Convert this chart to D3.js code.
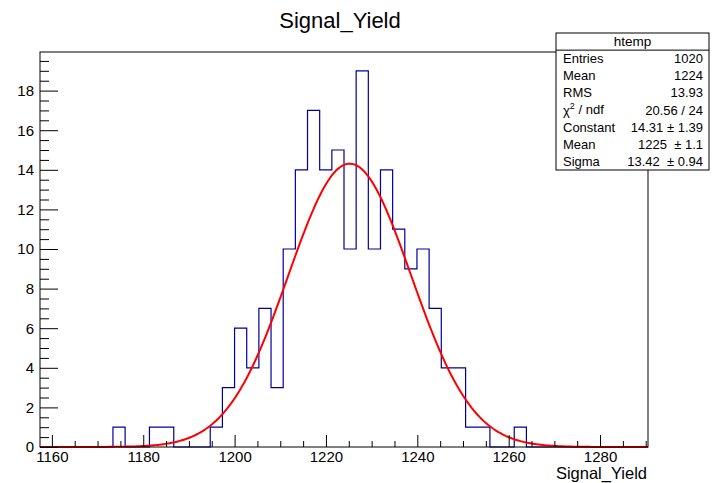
<!DOCTYPE html>
<html>
<head>
<meta charset="utf-8">
<script src="https://cdn.jsdelivr.net/npm/d3@7"></script>
<style>
  html, body { margin: 0; padding: 0; background: #fff; }
  svg { display: block; font-family: "Liberation Sans", Arial, Helvetica, sans-serif; }
  text { white-space: pre; }
</style>
</head>
<body>
<svg id="chart" width="712" height="483"></svg>
<script>
// ---- data ----
const title = "Signal_Yield";
const xTitle = "Signal_Yield";
const xMin = 1157.4, xMax = 1290.5;
const binCounts = [0,0,0,0,0,0,1,0,0,1,
                   1,0,0,0,1,3,6,4,7,3,
                   10,14,17,14,15,10,19,10,14,11,
                   9,10,7,4,4,1,1,0,0,1,
                   0,0,0,0,0,0,0,0,0,0];
const xTickMajor = [1160,1180,1200,1220,1240,1260,1280];
const yTickMajor = [0,2,4,6,8,10,12,14,16,18];
const yMax = 19.95;
const fitConstant = 14.31, fitMean = 1225.2, fitSigma = 13.42;
const statsTitle = "htemp";
const statsRows = [
  ["Entries", "1020"],
  ["Mean", "1224"],
  ["RMS", "13.93"],
  ["CHI2", "20.56 / 24"],
  ["Constant", "14.31 \u00b1 1.39"],
  ["Mean", "1225  \u00b1 1.1"],
  ["Sigma", "13.42  \u00b1 0.94"]
];

// ---- layout ----
const L = 40, R = 648, T = 52, B = 447;
const svg = d3.select("#chart");
const x = d3.scaleLinear().domain([xMin, xMax]).range([L, R]);
const y = d3.scaleLinear().domain([0, yMax]).range([B, T]);
const nB = binCounts.length;
const bw = (xMax - xMin) / nB;

// histogram outline
const pts = [];
binCounts.forEach((c, i) => {
  pts.push([xMin + i * bw, c]);
  pts.push([xMin + (i + 1) * bw, c]);
});
svg.append("path")
  .attr("d", d3.line().x(d => x(d[0])).y(d => y(d[1]))(pts))
  .attr("fill", "none").attr("stroke", "#000099").attr("stroke-width", 1.2);

// fit curve (Gaussian with fitted parameters)
const fx = d3.range(0, 301).map(i => xMin + (xMax - xMin) * i / 300);
svg.append("path")
  .attr("d", d3.line()
    .x(d => x(d))
    .y(d => y(fitConstant * Math.exp(-0.5 * Math.pow((d - fitMean) / fitSigma, 2))))(fx))
  .attr("fill", "none").attr("stroke", "#ff0000").attr("stroke-width", 2);

// frame
svg.append("rect").attr("x", L).attr("y", T).attr("width", R - L).attr("height", B - T)
  .attr("fill", "none").attr("stroke", "#000").attr("stroke-width", 1);

// x axis
const xMinor = d3.range(1160, 1291, 5).filter(v => xTickMajor.indexOf(v) < 0);
const gx = svg.append("g").attr("transform", `translate(0,${B})`);
gx.call(d3.axisBottom(x).tickValues(xTickMajor).tickSizeInner(-12).tickSizeOuter(0).tickPadding(4).tickFormat(d3.format("d")));
const gxm = svg.append("g").attr("transform", `translate(0,${B})`);
gxm.call(d3.axisBottom(x).tickValues(xMinor).tickSizeInner(-6).tickSizeOuter(0).tickFormat(""));
[gx, gxm].forEach(g => { g.select(".domain").remove(); g.selectAll("line").attr("stroke", "#000"); });
gx.selectAll("text").attr("font-size", 15).attr("fill", "#000").attr("font-family", null);

// y axis
const yMinor = d3.range(0, 20, 0.5).filter(v => v <= yMax && yTickMajor.indexOf(v) < 0);
const gy = svg.append("g").attr("transform", `translate(${L},0)`);
gy.call(d3.axisLeft(y).tickValues(yTickMajor).tickSizeInner(-18).tickSizeOuter(0).tickPadding(6).tickFormat(d3.format("d")));
const gym = svg.append("g").attr("transform", `translate(${L},0)`);
gym.call(d3.axisLeft(y).tickValues(yMinor).tickSizeInner(-9).tickSizeOuter(0).tickFormat(""));
[gy, gym].forEach(g => { g.select(".domain").remove(); g.selectAll("line").attr("stroke", "#000"); });
gy.selectAll("text").attr("font-size", 15).attr("fill", "#000").attr("font-family", null);

// titles
svg.append("text").attr("x", 340).attr("y", 28).attr("text-anchor", "middle")
  .attr("font-size", 22).text(title);
svg.append("text").attr("x", 647).attr("y", 479).attr("text-anchor", "end")
  .attr("font-size", 16.5).text(xTitle);

// stats box
const sx0 = 556, sx1 = 709, sy0 = 33, sy1 = 170;
const rowH = (sy1 - sy0) / (statsRows.length + 1);
const sb = svg.append("g");
sb.append("rect").attr("x", sx0).attr("y", sy0).attr("width", sx1 - sx0).attr("height", sy1 - sy0)
  .attr("fill", "#fff").attr("stroke", "#000").attr("stroke-width", 1);
sb.append("line").attr("x1", sx0).attr("x2", sx1).attr("y1", sy0 + rowH).attr("y2", sy0 + rowH)
  .attr("stroke", "#000").attr("stroke-width", 1);
sb.append("text").attr("x", (sx0 + sx1) / 2).attr("y", sy0 + rowH / 2).attr("dy", "0.35em")
  .attr("text-anchor", "middle").attr("font-size", 13.5).text(statsTitle);
statsRows.forEach((r, i) => {
  const cy = sy0 + rowH * (i + 1.5);
  const lt = sb.append("text").attr("x", sx0 + 7).attr("y", cy).attr("dy", "0.35em").attr("font-size", 13);
  if (r[0] === "CHI2") {
    lt.append("tspan").text("\u03c7");
    lt.append("tspan").attr("font-size", 9).attr("dy", "-0.6em").text("2");
    lt.append("tspan").attr("dy", "0.35em").text(" / ndf");
  } else {
    lt.text(r[0]);
  }
  sb.append("text").attr("x", sx1 - 6).attr("y", cy).attr("dy", "0.35em")
    .attr("text-anchor", "end").attr("font-size", 13).text(r[1]);
});
</script>
</body>
</html>
